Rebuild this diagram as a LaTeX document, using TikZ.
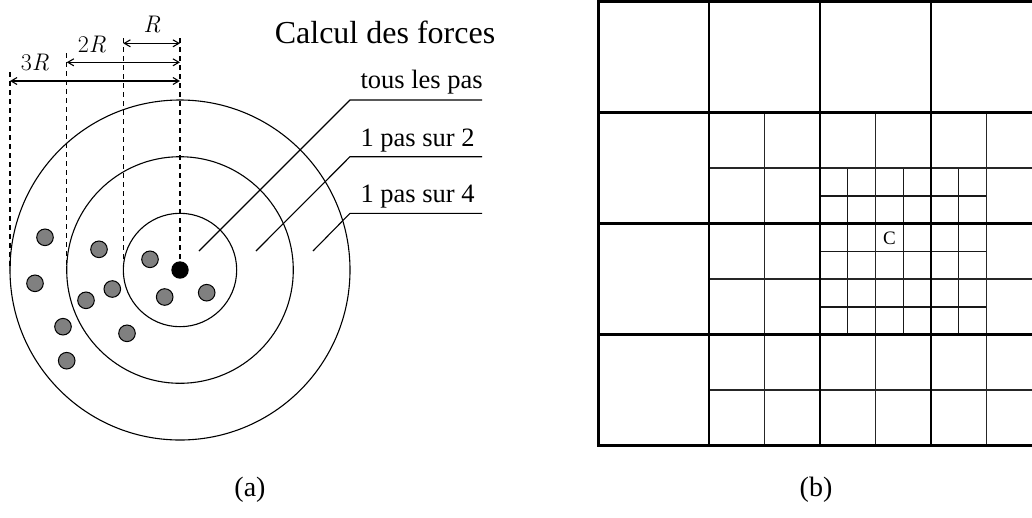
\documentclass[tikz,border=0pt]{standalone}
\usepackage[no-math]{fontspec}
\setmainfont{Liberation Serif}
\newfontfamily\cmfont{Latin Modern Roman}
\usetikzlibrary{arrows.meta}
\definecolor{dotgray}{RGB}{128,128,128}

\begin{document}
\begin{tikzpicture}[x=1pt,y=-1pt,line width=1.1pt,
dim/.style={line width=1.1pt,{Straight Barb[length=6pt,width=7pt]}-{Straight Barb[length=6pt,width=7pt]}},
guide/.style={line width=1.1pt,dash pattern=on 5pt off 4pt},
particle/.style={fill=dotgray,draw=black,line width=1pt},
lab/.style={font=\fontsize{26.5}{30}\selectfont,anchor=base west,inner sep=0pt},
mth/.style={font=\cmfont\fontsize{24}{28}\selectfont,inner sep=0pt},
coarse/.style={line width=2.7pt},
medium/.style={line width=1.8pt,black!85},
fine/.style={line width=1.2pt,black!90}]
\useasboundingbox (0,0) rectangle (1032,517);
% (a) interaction rings around the particle c, R = 56.7
\coordinate (c) at (180,270);
\foreach \r in {56.7,113.3,170} \draw (c) circle[radius=\r pt];
\foreach \px/\py in {45/237.3,99/249.3,150/259.3,35/283.3,112.3/289,86/300.3,
164.7/297,206.7/292.7,63/326.7,127/333.3,66.7/360.7}
\draw[particle] (\px,\py) circle[radius=8.3pt];
\fill (c) circle[radius=8.7pt];
% dashed guides and radii
\draw[guide] (180,38) -- (180,261);
\draw[guide] (123.3,38) -- (123.3,270);
\draw[guide] (66.7,53) -- (66.7,270);
\draw[guide] (10,72) -- (10,270);
\draw[dim] (123.3,43.3) -- (180,43.3);
\draw[dim] (66.7,62.3) -- (180,62.3);
\draw[dim] (10,81) -- (180,81);
\node[mth] (r1) at (152,25) {\itshape R};
\node[mth] (r2) at (92,45) {2\textit{R}};
\node[mth] (r3) at (35,63) {3\textit{R}};
\node[font=\fontsize{32}{36}\selectfont,anchor=base,inner sep=0pt] (title) at (385,43) {Calcul des forces};
% update frequencies, one leader per ring
\coordinate (z1) at (199,251);
\coordinate (z2) at (256,251);
\coordinate (z3) at (313,251);
\coordinate (u1) at (350,100);
\coordinate (u2) at (350,156.7);
\coordinate (u3) at (350,213.3);
\node[lab] (f1) at (360,88.5) {tous les pas};
\node[lab] (f2) at (360,146) {1 pas sur 2};
\node[lab] (f3) at (360,202.5) {1 pas sur 4};
\draw (z1) -- (u1) -- ++(132,0);
\draw (z2) -- (u2) -- ++(132,0);
\draw (z3) -- (u3) -- ++(132,0);
\node[font=\fontsize{28}{32}\selectfont,inner sep=0pt] (capa) at (250,490) {(a)};
% (b) adaptive grid, cell size 111, clipped at the right edge
\begin{scope}
\clip (590,0) rectangle (1032,517);
\foreach \x in {847.75,903.25,958.75} \draw[fine] (\x,168.2) -- (\x,334.7);
\foreach \y in {195.95,251.45,306.95} \draw[fine] (820,\y) -- (986.5,\y);
\foreach \x in {764.5,875.5,986.5} \draw[medium] (\x,112.7) -- (\x,445.7);
\foreach \y in {168.2,279.2,390.2} \draw[medium] (709,\y) -- (1042,\y);
\foreach \x in {709,820,931} \draw[coarse] (\x,1.7) -- (\x,445.7);
\foreach \y in {112.7,223.7,334.7} \draw[coarse] (598.3,\y) -- (1042,\y);
\draw[coarse] (598.3,1.7) rectangle (1042,445.7);
\end{scope}
\node[font=\fontsize{19}{22}\selectfont,inner sep=0pt] (cell) at (889.4,238) {C};
\node[font=\fontsize{28}{32}\selectfont,inner sep=0pt] (capb) at (816,490) {(b)};
\end{tikzpicture}
\end{document}
